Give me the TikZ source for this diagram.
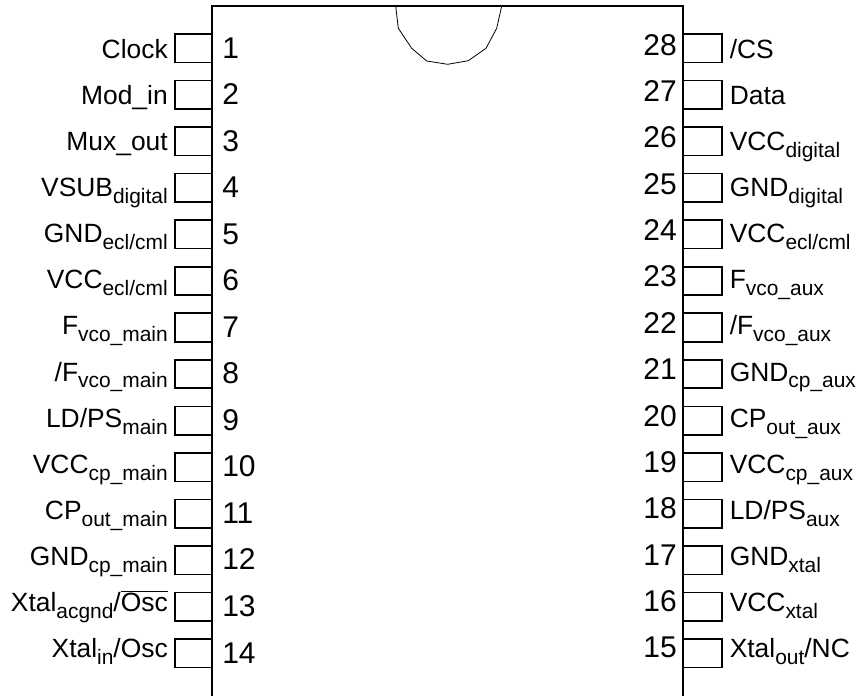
\documentclass[tikz,border=0pt]{standalone}
\usepackage{fontspec}
\setmainfont{Liberation Sans}
\newcommand{\pinsub}[1]{\raisebox{-0.26em}{\fontsize{15.7}{17}\selectfont #1}}
\tikzset{
  chip/.style={line width=1.5pt},
  pinbox/.style={line width=1.2pt},
  notch/.style={line width=0.6pt},
  pinlabel/.style={inner sep=0pt, anchor=base east, font=\fontsize{19.8}{22}\selectfont},
  pinlabelr/.style={inner sep=0pt, anchor=base west, font=\fontsize{19.8}{22}\selectfont},
  pinnum/.style={inner sep=0pt, anchor=base west, font=\fontsize{22.5}{24}\selectfont},
  pinnumr/.style={inner sep=0pt, anchor=base east, font=\fontsize{22.5}{24}\selectfont}
}
\begin{document}
\begin{tikzpicture}[x=0.75pt,y=-0.75pt]
  \useasboundingbox (0,0) rectangle (864,696);

  % package outline
  \draw[chip] (212,696) -- (212,6) -- (683,6) -- (683,696);

  % notch
  \draw[notch] (395.7,6) -- (398.3,28.3) -- (411.7,48.3) -- (426.7,61) -- (447.7,64.3)
    -- (468.3,60.7) -- (486,48.3) -- (496.7,28.3) -- (501.7,6);

  % left pins
  \foreach \n/\lab in {
    1/{Clock},
    2/{Mod\_in},
    3/{Mux\_out},
    4/{VSUB\pinsub{digital}},
    5/{GND\pinsub{ecl/cml}},
    6/{VCC\pinsub{ecl/cml}},
    7/{F\pinsub{vco\_main}},
    8/{/F\pinsub{vco\_main}},
    9/{LD/PS\pinsub{main}},
    10/{VCC\pinsub{cp\_main}},
    11/{CP\pinsub{out\_main}},
    12/{GND\pinsub{cp\_main}},
    13/{Xtal\pinsub{acgnd}/$\overline{\hbox{Osc}}$},
    14/{Xtal\pinsub{in}/Osc}}
  {
    \pgfmathsetmacro{\ytop}{34+46.54*(\n-1)}
    \draw[pinbox] (212,\ytop) -- (175,\ytop) -- (175,\ytop+28.5) -- (212,\ytop+28.5);
    \node[pinlabel] (left\n) at (168,58+46.15*\n-46.15) {\lab};
    \node[pinnum] (num\n) at (222,\ytop+24) {\n};
  }

  % right pins
  \foreach \n/\lab in {
    28/{/CS},
    27/{Data},
    26/{VCC\pinsub{digital}},
    25/{GND\pinsub{digital}},
    24/{VCC\pinsub{ecl/cml}},
    23/{F\pinsub{vco\_aux}},
    22/{/F\pinsub{vco\_aux}},
    21/{GND\pinsub{cp\_aux}},
    20/{CP\pinsub{out\_aux}},
    19/{VCC\pinsub{cp\_aux}},
    18/{LD/PS\pinsub{aux}},
    17/{GND\pinsub{xtal}},
    16/{VCC\pinsub{xtal}},
    15/{Xtal\pinsub{out}/NC}}
  {
    \pgfmathsetmacro{\ytop}{34+46.54*(28-\n)}
    \draw[pinbox] (683,\ytop) -- (722,\ytop) -- (722,\ytop+28.5) -- (683,\ytop+28.5);
    \node[pinlabelr] (right\n) at (729.5,58+46.15*28-46.15*\n) {\lab};
    \node[pinnumr] (num\n) at (677,55+46.38*28-46.38*\n) {\n};
  }
\end{tikzpicture}
\end{document}
